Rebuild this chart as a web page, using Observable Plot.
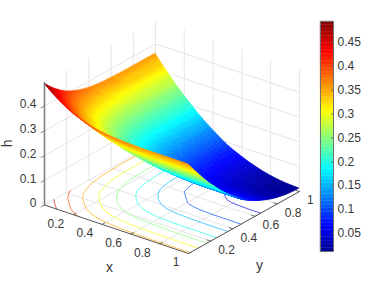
<!DOCTYPE html>
<html>
<head>
<meta charset="utf-8">
<script src="https://cdn.jsdelivr.net/npm/d3@7"></script>
<script src="https://cdn.jsdelivr.net/npm/@observablehq/plot@0.6"></script>
<style>
html,body{margin:0;padding:0;background:#fff}
#chart{position:relative;width:378px;height:283px;overflow:hidden}
#chart svg{position:absolute;top:0}
</style>
</head>
<body>
<div id="chart"></div>
<script>
// Axis ticks
const xTicks = [0.2, 0.4, 0.6, 0.8, 1];
const yTicks = [0.2, 0.4, 0.6, 0.8, 1];
const hTicks = [0, 0.1, 0.2, 0.3, 0.4];
const contourLevels = [0.05, 0.1, 0.15, 0.2, 0.25, 0.3, 0.35, 0.4, 0.45];
const colorbarTicks = [0.05, 0.1, 0.15, 0.2, 0.25, 0.3, 0.35, 0.4, 0.45];
const hRange = [0.012, 0.494];
// Grid of the surface: 0, 0.05, ... 1 on both axes
const gridStep = 0.05;
// h. The surface looks mirror-symmetric in x and y,
// so row i holds h at x = i*step for y = x, x+step, ... 1.
const heightRows = [
  [.490,.465,.443,.424,.408,.396,.386,.378,.372,.368,.365,.363,.362,.361,.360,.360,.360,.360,.360,.360,.360],
  [.442,.418,.398,.380,.366,.355,.346,.339,.334,.331,.328,.327,.326,.325,.325,.325,.325,.325,.325,.325],
  [.397,.374,.355,.339,.326,.316,.308,.303,.298,.296,.294,.293,.292,.292,.292,.292,.292,.292,.292],
  [.354,.333,.315,.300,.289,.280,.273,.268,.265,.263,.262,.261,.260,.260,.260,.260,.260,.260],
  [.314,.294,.277,.264,.253,.246,.240,.236,.234,.232,.231,.231,.230,.230,.230,.230,.230],
  [.276,.257,.242,.230,.221,.214,.209,.206,.205,.203,.203,.203,.203,.203,.203,.203],
  [.240,.223,.209,.198,.190,.185,.181,.179,.178,.177,.177,.176,.176,.176,.176],
  [.207,.191,.179,.169,.162,.158,.155,.154,.153,.152,.152,.152,.152,.152],
  [.176,.162,.151,.142,.137,.133,.131,.130,.130,.130,.130,.130,.130],
  [.148,.135,.125,.118,.114,.111,.110,.109,.109,.109,.109,.109],
  [.123,.111,.102,.096,.093,.091,.090,.090,.090,.090,.090],
  [.102,.091,.084,.079,.077,.076,.075,.075,.075,.075],
  [.083,.074,.068,.064,.063,.062,.062,.062,.062],
  [.0661,.0583,.0537,.0514,.0505,.0502,.0501,.0500],
  [.052,.045,.042,.041,.040,.040,.040],
  [.040,.035,.032,.032,.032,.031],
  [.030,.026,.025,.024,.024],
  [.022,.020,.019,.019],
  [.016,.015,.015],
  [.013,.013],
  [.012]
];

const n = heightRows.length;
const heightAt = (i, j) => heightRows[Math.min(i, j)][Math.abs(i - j)];

// Orthographic view: data (x, y, h) -> plane coordinates fed to Plot's x and y scales
const view = {ux: 144, uy: 111, vx: -48.5, vy: 62, vh: 247.5};
const U = (x, y) => view.ux * x + view.uy * y;
const V = (x, y, h) => view.vx * x + view.vy * y + view.vh * h;

// Jet colour map, 64 levels
const jetAt = d3.scaleLinear()
  .domain([0, .11, .36, .61, .87, 1])
  .range(["#000090", "#0000ff", "#00ffff", "#ffff00", "#ff0000", "#800000"]);
const levels = 64;
const jet = d3.range(levels).map(k => d3.rgb(jetAt((k + .5) / levels)).formatHex());
const bandSize = (hRange[1] - hRange[0]) / levels;
const thresholds = d3.range(1, levels).map(k => hRange[0] + k * bandSize);
const colorScale = {type: "threshold", domain: thresholds, range: jet};

// Surface facets, painted from far to near. Each table cell is shaded in
// smaller facets across its four corner heights (renderer shading only).
const shade = 5;
const cells = [];
for (let i = 0; i < n - 1; i++) for (let j = 0; j < n - 1; j++) {
  const h00 = heightAt(i, j), h01 = heightAt(i, j + 1), h10 = heightAt(i + 1, j), h11 = heightAt(i + 1, j + 1);
  const at = (s, t) => {
    const x = (i + s) * gridStep, y = (j + t) * gridStep;
    const h = h00 * (1 - s) * (1 - t) + h01 * (1 - s) * t + h10 * s * (1 - t) + h11 * s * t;
    return {x, y, h, u: U(x, y), v: V(x, y, h)};
  };
  for (let a = 0; a < shade; a++) for (let b = 0; b < shade; b++) {
    const p = at(a / shade, b / shade), q = at(a / shade, (b + 1) / shade);
    const r = at((a + 1) / shade, b / shade), w = at((a + 1) / shade, (b + 1) / shade);
    cells.push({
      depth: -view.vx * (p.x + w.x) - view.vy * (p.y + w.y),
      value: (p.h + q.h + r.h + w.h) / 4,
      p, q, r, w
    });
  }
}
cells.sort((p, q) => d3.ascending(p.depth, q.depth));
const quads = cells.flatMap((c, id) => [
  {id, value: c.value, u1: c.p.u, v1: c.p.v, u2: c.q.u, v2: c.q.v},
  {id, value: c.value, u1: c.r.u, v1: c.r.v, u2: c.w.u, v2: c.w.v}
]);

const flat = [];
for (let j = 0; j < n; j++) for (let i = 0; i < n; i++) flat.push(heightAt(i, j));
const contourPts = [];
let seg = 0;
for (const poly of d3.contours().size([n, n]).thresholds(contourLevels)(flat)) {
  for (const shape of poly.coordinates) for (const ring of shape) {
    const inside = p => p[0] >= .5 && p[0] <= n - .5 && p[1] >= .5 && p[1] <= n - .5;
    const start = ring.findIndex(p => !inside(p));
    const ordered = start < 0 ? ring : ring.slice(start).concat(ring.slice(0, start));
    let open = false;
    for (const p of ordered) {
      if (inside(p)) {
        if (!open) { seg++; open = true; }
        const x = (p[0] - .5) * gridStep, y = (p[1] - .5) * gridStep;
        contourPts.push({seg, level: poly.value, u: U(x, y), v: V(x, y, 0)});
      } else open = false;
    }
  }
}

// Grid lines on floor and back walls
const gridLines = [];
const addLine = (a, b) => {
  const id = gridLines.length;
  gridLines.push({id, u: U(a[0], a[1]), v: V(...a)}, {id, u: U(b[0], b[1]), v: V(...b)});
};
const hTop = hRange[1];
for (const x of xTicks) { addLine([x, 0, 0], [x, 1, 0]); addLine([x, 1, 0], [x, 1, hTop]); }
for (const y of yTicks) { addLine([0, y, 0], [1, y, 0]); addLine([0, y, 0], [0, y, hTop]); }
for (const h of hTicks.slice(1)) { addLine([0, 0, h], [0, 1, h]); addLine([0, 1, h], [1, 1, h]); }
addLine([0, 0, 0], [0, 1, 0]);
addLine([0, 1, 0], [1, 1, 0]);

const segs = (list) => list.flatMap((s, id) => [
  {id, u: U(s[0], s[1]), v: V(s[0], s[1], s[2])},
  {id, u: U(s[3], s[4]), v: V(s[3], s[4], s[5])}
]);
const axisEdges = segs([[0, 0, 0, 1, 0, 0], [1, 0, 0, 1, 1, 0]]);
const tickMarks = segs([
  ...xTicks.map(x => [x, 0, 0, x, .025, 0]),
  ...yTicks.map(y => [1, y, 0, .975, y, 0]),
  ...hTicks.map(h => [0, 0, h, 0, -.03, h])
]);
const hAxis = segs([[0, 0, 0, 0, 0, hTop]]);

const font = "'Liberation Sans', Arial, sans-serif";
const ink = "#383838";
const textOpts = {fontSize: 12, fill: ink};

const main = Plot.plot({
  width: 378, height: 283,
  margin: 0,
  style: {fontFamily: font},
  x: {domain: [-44, 334], range: [0, 378], axis: null},
  y: {domain: [204.5, -78.5], range: [0, 283], axis: null},
  color: colorScale,
  marks: [
    Plot.line(gridLines, {x: "u", y: "v", z: "id", stroke: "#e6e6e6", strokeWidth: 1}),
    Plot.line(contourPts, {x: "u", y: "v", z: "seg", stroke: "level", strokeWidth: .8, strokeOpacity: .85, curve: "linear"}),
    Plot.area(quads, {x1: "u1", y1: "v1", x2: "u2", y2: "v2", z: "id", fill: "value", stroke: "value", strokeWidth: .5, curve: "linear"}),
    Plot.line(axisEdges, {x: "u", y: "v", z: "id", stroke: "#555", strokeWidth: 1}),
    Plot.line(tickMarks, {x: "u", y: "v", z: "id", stroke: "#555", strokeWidth: .8}),
    Plot.line(hAxis, {x: "u", y: "v", z: "id", stroke: "#808080", strokeWidth: 1.6}),
    Plot.text(xTicks, {x: d => U(d, 0), y: d => V(d, 0, 0), text: d => String(d), textAnchor: "end", dx: -9, dy: 9, ...textOpts}),
    Plot.text(yTicks, {x: d => U(1, d), y: d => V(1, d, 0), text: d => String(d), textAnchor: "start", dx: 7.5, dy: 9, ...textOpts}),
    Plot.text(hTicks, {x: d => U(0, 0), y: d => V(0, 0, d), text: d => String(d), textAnchor: "end", dx: -8, dy: -1.5, ...textOpts}),
    Plot.text(["x"], {x: () => U(.5, 0), y: () => V(.5, 0, 0), text: d => d, dx: -7, dy: 38, fontSize: 14, fill: ink}),
    Plot.text(["y"], {x: () => U(1, .5), y: () => V(1, .5, 0), text: d => d, dx: 15.5, dy: 43, fontSize: 14, fill: ink}),
    Plot.text(["h"], {x: () => U(0, 0), y: () => V(0, 0, .245), text: d => d, dx: -37, dy: -1, rotate: -90, fontSize: 14, fill: ink})
  ]
});
main.style.left = "0px";

// Colour bar
const bands = d3.range(levels).map(k => ({
  lo: hRange[0] + k * bandSize,
  hi: hRange[0] + (k + 1) * bandSize,
  mid: hRange[0] + (k + .5) * bandSize
}));
const bar = Plot.plot({
  width: 66, height: 283,
  marginLeft: 8, marginRight: 45, marginTop: 21, marginBottom: 32,
  style: {fontFamily: font, background: "transparent"},
  x: {domain: [0, 1], axis: null},
  y: {domain: hRange, axis: null},
  color: colorScale,
  marks: [
    Plot.rect(bands, {x1: () => 0, x2: () => 1, y1: "lo", y2: "hi", fill: "mid", stroke: "mid", strokeWidth: .3}),
    Plot.frame({stroke: "#707070", strokeWidth: 1}),
    Plot.ruleY(colorbarTicks, {x1: () => .86, x2: () => 1, stroke: "#555", strokeWidth: .8}),
    Plot.axisY(colorbarTicks, {anchor: "right", tickSize: 0, tickPadding: 4, tickFormat: d => String(d), label: null, fontSize: 12, fill: ink})
  ]
});
bar.style.left = "312px";

const host = document.getElementById("chart");
host.append(main, bar);
</script>
</body>
</html>
